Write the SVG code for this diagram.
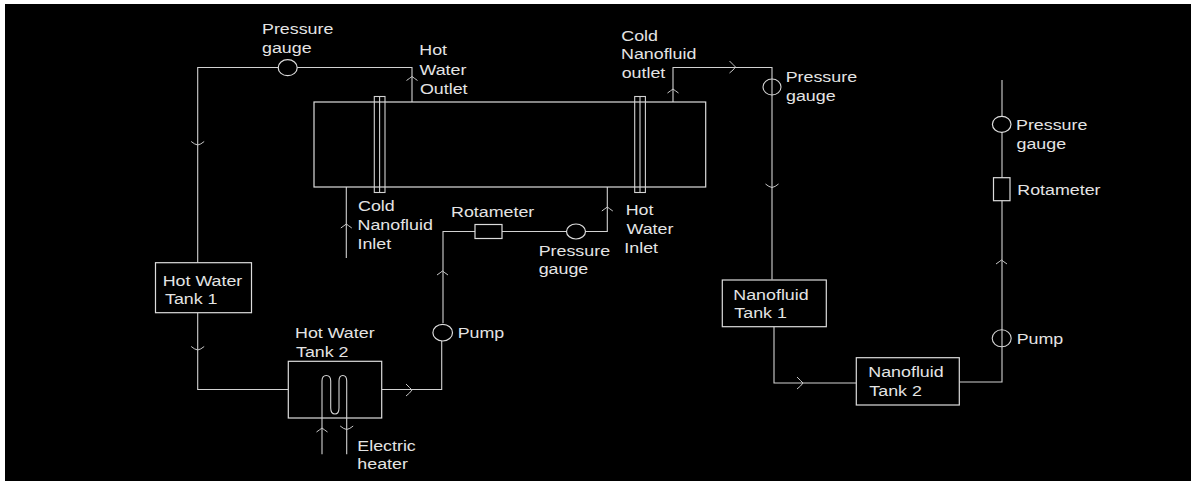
<svg xmlns="http://www.w3.org/2000/svg" xmlns:xlink="http://www.w3.org/1999/xlink" width="1191" height="481" viewBox="0 0 1191 481">
<style>
.s{fill:none;stroke:#d2d2d2;stroke-width:1.1}
.b{fill:#000;stroke:#dcdcdc;stroke-width:1.2}
.a{fill:none;stroke:#c8c8c8;stroke-width:1}
text{font-family:"Liberation Sans",Arial,sans-serif;font-size:15px;fill:#e4e4e4}
</style>
<defs>
<path id="au" class="a" d="M-5.5 3Q-2 .5 0-1Q2 .5 5.5 3"/>
<path id="ad" class="a" d="M-6.5-2Q-3 1 0 1.5Q3 1 6.5-2"/>
<path id="ar" class="a" d="M-5-6Q-1-2 1 0Q-1 3-5 6"/>
</defs>
<rect width="1191" height="481" fill="#fff"/>
<rect x="5" y="4" width="1186" height="477" fill="#000"/>
<g id="connectors">
<path class="s" d="M412 102V67.5H197.7V263M197.7 313V389.5H288M381.7 389.5H441.7V341M443 323V231.5H475M502 231.5H607.3V187M346.3 187V258M673 102V67.5H772V279.5M774 327V383H856M959.5 382H1002V80"/>
<use href="#au" x="412" y="77.5"/>
<use href="#ad" x="197.7" y="143.5"/>
<use href="#ad" x="197.7" y="348.5"/>
<use href="#au" x="346.3" y="225"/>
<use href="#ar" x="411" y="390"/>
<use href="#au" x="442.5" y="272"/>
<use href="#au" x="607.3" y="208"/>
<use href="#au" x="673" y="90"/>
<use href="#ar" x="734.5" y="67"/>
<use href="#ad" x="772" y="186"/>
<use href="#ar" x="802" y="383"/>
<use href="#au" x="1001.5" y="261"/>
</g>
<g id="heat-exchanger">
<rect class="b" x="314" y="102" width="391.7" height="85"/>
<rect class="s" x="374.3" y="96.5" width="10.7" height="96"/>
<path class="s" d="M379.6 96.5V192.5"/>
<rect class="s" x="634.7" y="96.5" width="10.7" height="96"/>
<path class="s" d="M640 96.5V192.5"/>
</g>
<g id="label-cold-inlet"><text transform="matrix(1.19 0 0 1 358 210.7)">Cold</text><text transform="matrix(1.19 0 0 1 357.5 230)">Nanofluid</text><text transform="matrix(1.19 0 0 1 357.5 249)">Inlet</text></g>
<g id="label-hot-outlet"><text transform="matrix(1.19 0 0 1 419.3 55)">Hot</text><text transform="matrix(1.19 0 0 1 419.5 74.5)">Water</text><text transform="matrix(1.19 0 0 1 420 94)">Outlet</text></g>
<g id="label-cold-outlet"><text transform="matrix(1.19 0 0 1 621.3 40.7)">Cold</text><text transform="matrix(1.19 0 0 1 621 59.3)">Nanofluid</text><text transform="matrix(1.19 0 0 1 621.7 78)">outlet</text></g>
<g id="label-hot-inlet"><text transform="matrix(1.19 0 0 1 625.7 215)">Hot</text><text transform="matrix(1.19 0 0 1 626.5 234)">Water</text><text transform="matrix(1.19 0 0 1 624.3 252.7)">Inlet</text></g>
<g id="gauge-1"><ellipse class="b" cx="287.7" cy="67.7" rx="9.5" ry="8"/><text transform="matrix(1.19 0 0 1 262 34)">Pressure</text><text transform="matrix(1.19 0 0 1 262 53.3)">gauge</text></g>
<g id="gauge-2"><ellipse class="b" cx="576" cy="231.5" rx="9.5" ry="7.5"/><text transform="matrix(1.19 0 0 1 538.7 256)">Pressure</text><text transform="matrix(1.19 0 0 1 538.7 274.3)">gauge</text></g>
<g id="gauge-3"><ellipse class="s" cx="772" cy="87" rx="9" ry="8"/><text transform="matrix(1.19 0 0 1 785.7 82)">Pressure</text><text transform="matrix(1.19 0 0 1 786 101)">gauge</text></g>
<g id="gauge-4"><ellipse class="b" cx="1001.7" cy="124.3" rx="9.3" ry="8"/><text transform="matrix(1.19 0 0 1 1016 130)">Pressure</text><text transform="matrix(1.19 0 0 1 1016.5 149)">gauge</text></g>
<g id="rotameter-1"><rect class="b" x="475" y="224.5" width="27" height="14"/><text transform="matrix(1.19 0 0 1 451 216.7)">Rotameter</text></g>
<g id="rotameter-2"><rect class="b" x="993.5" y="177.7" width="16.5" height="23"/><text transform="matrix(1.19 0 0 1 1017.3 195)">Rotameter</text></g>
<g id="pump-1"><ellipse class="b" cx="442.7" cy="332.7" rx="9.8" ry="8.3"/><text transform="matrix(1.19 0 0 1 457.7 337.7)">Pump</text></g>
<g id="pump-2"><ellipse class="s" cx="1001.7" cy="338.3" rx="9.5" ry="8.5"/><text transform="matrix(1.19 0 0 1 1016.7 344.3)">Pump</text></g>
<g id="hot-water-tank-1"><rect class="b" x="155.5" y="262.7" width="96" height="50"/><text transform="matrix(1.19 0 0 1 162.7 286)">Hot Water</text><text transform="matrix(1.19 0 0 1 165 304)">Tank 1</text></g>
<g id="hot-water-tank-2"><rect class="b" x="288.3" y="361.3" width="93.4" height="56.7"/><text transform="matrix(1.19 0 0 1 295 337.7)">Hot Water</text><text transform="matrix(1.19 0 0 1 296 357)">Tank 2</text></g>
<g id="electric-heater">
<path class="s" d="M322 454.3V381Q322 375.5 326.3 375.5Q330.7 375.5 330.7 381V408Q330.7 414 335 414Q339 414 339 408V381Q339 375.5 342.8 375.5Q346.7 375.5 346.7 381V454.3"/>
<use href="#au" x="322" y="429"/>
<use href="#ad" x="346.7" y="428"/>
<text transform="matrix(1.19 0 0 1 357.3 450.7)">Electric</text><text transform="matrix(1.19 0 0 1 357.3 469)">heater</text>
</g>
<g id="nanofluid-tank-1"><rect class="b" x="722.3" y="280" width="104" height="46.7"/><text transform="matrix(1.19 0 0 1 733.3 300)">Nanofluid</text><text transform="matrix(1.19 0 0 1 734.3 318.3)">Tank 1</text></g>
<g id="nanofluid-tank-2"><rect class="b" x="856.3" y="357.7" width="103" height="47.3"/><text transform="matrix(1.19 0 0 1 868.3 377.3)">Nanofluid</text><text transform="matrix(1.19 0 0 1 869.3 396)">Tank 2</text></g>
</svg>
